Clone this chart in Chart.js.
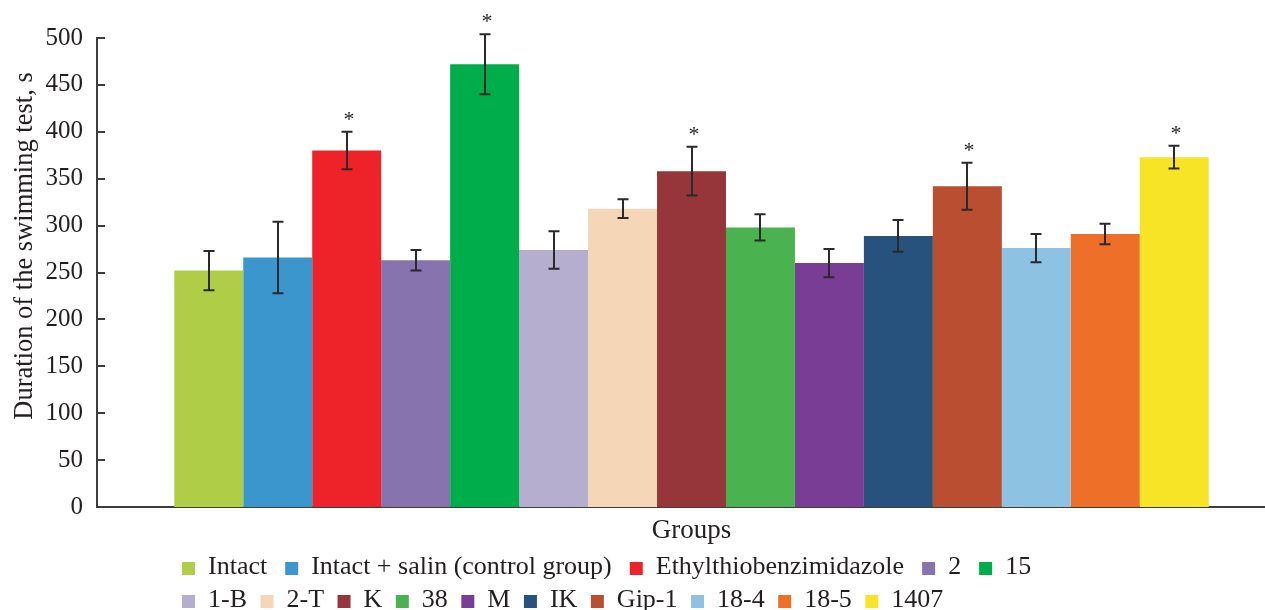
<!DOCTYPE html>
<html>
<head>
<meta charset="utf-8">
<script src="https://cdn.jsdelivr.net/npm/chart.js@4.4.0/dist/chart.umd.min.js"></script>
<style>
  html, body { margin: 0; padding: 0; overflow: hidden; background: #ffffff; }
  #wrap { position: absolute; left: 0; top: 0; width: 1286px; height: 610px; }
</style>
</head>
<body>
<div id="wrap"><canvas id="c" width="1286" height="610"></canvas></div>
<script>
// ---- data ----
const categories = ["Groups"];
const groups = ["Intact", "Intact + salin (control group)", "Ethylthiobenzimidazole", "2", "15",
  "1-B", "2-T", "K", "38", "M", "IK", "Gip-1", "18-4", "18-5", "1407"];
const means = [252, 266, 380, 263, 472, 274, 318, 358, 298, 260, 289, 342, 276, 291, 373];
const errors = [21, 38, 20, 11, 32, 20, 10, 26, 14, 15, 17, 25, 15, 11, 12];
const significant = [false, false, true, false, true, false, false, true, false, false, false, true, false, false, true];
const colors = ["#b0cd48", "#3a96cc", "#ee2229", "#8774ae", "#00ad4b", "#b6aece", "#f5d7b8", "#96353a",
  "#4bb250", "#7a3d96", "#27527d", "#b94e31", "#8ec2e3", "#ee6f27", "#f8e426"];
const yTicks = [0, 50, 100, 150, 200, 250, 300, 350, 400, 450, 500];
const legendRows = [[0, 1, 2, 3, 4], [5, 6, 7, 8, 9, 10, 11, 12, 13, 14]];

const FONT = "'Liberation Serif', 'Times New Roman', serif";
const TXT = "#231f20";
const AXIS = "#3d3d3d";

const datasets = groups.map((g, i) => ({
  label: g,
  data: [means[i]],
  backgroundColor: colors[i],
  borderWidth: 0,
  categoryPercentage: 0.87,
  barPercentage: 1.0
}));

const decor = {
  id: "decor",
  afterDatasetsDraw(chart) {
    const ctx = chart.ctx;
    const y = chart.scales.y;
    const area = chart.chartArea;
    ctx.save();
    // inward ticks on y axis
    ctx.strokeStyle = AXIS;
    ctx.lineWidth = 2;
    yTicks.forEach(v => {
      const py = Math.round(y.getPixelForValue(v));
      ctx.beginPath();
      ctx.moveTo(area.left, py);
      ctx.lineTo(area.left + 8, py);
      ctx.stroke();
    });
    // error bars and significance marks
    ctx.strokeStyle = "#2a2a2a";
    ctx.lineWidth = 2;
    groups.forEach((g, i) => {
      const bar = chart.getDatasetMeta(i).data[0];
      const cx = Math.round(bar.x);
      const top = y.getPixelForValue(means[i] + errors[i]);
      const bot = y.getPixelForValue(means[i] - errors[i]);
      ctx.beginPath();
      ctx.moveTo(cx, top); ctx.lineTo(cx, bot);
      ctx.moveTo(cx - 5.5, top); ctx.lineTo(cx + 5.5, top);
      ctx.moveTo(cx - 5.5, bot); ctx.lineTo(cx + 5.5, bot);
      ctx.stroke();
      if (significant[i]) {
        ctx.fillStyle = TXT;
        ctx.font = "22px " + FONT;
        ctx.textAlign = "center";
        ctx.textBaseline = "middle";
        ctx.fillText("*", cx + 2, top - 12);
      }
    });
    ctx.restore();
  },
  afterDraw(chart) {
    const ctx = chart.ctx;
    const area = chart.chartArea;
    ctx.save();
    ctx.fillStyle = TXT;
    // y title
    ctx.save();
    ctx.translate(25, 246);
    ctx.rotate(-Math.PI / 2);
    ctx.font = "26.5px " + FONT;
    ctx.textAlign = "center";
    ctx.textBaseline = "middle";
    ctx.fillText("Duration of the swimming test, s", 0, 0);
    ctx.restore();
    // x title
    ctx.font = "27px " + FONT;
    ctx.textAlign = "center";
    ctx.textBaseline = "alphabetic";
    ctx.fillText(categories[0], (area.left + area.right) / 2, 538);
    // legend
    ctx.font = "26px " + FONT;
    ctx.textAlign = "left";
    ctx.textBaseline = "alphabetic";
    const rowBase = [574, 607];
    const rowGap = [18, 13.5];
    legendRows.forEach((row, r) => {
      let x = 182;
      row.forEach(i => {
        ctx.fillStyle = colors[i];
        ctx.fillRect(x, rowBase[r] - 12, 13, 13);
        ctx.fillStyle = TXT;
        ctx.fillText(groups[i], x + 26, rowBase[r]);
        x += 26 + ctx.measureText(groups[i]).width + rowGap[r];
      });
    });
    ctx.restore();
  }
};

new Chart(document.getElementById("c"), {
  type: "bar",
  data: { labels: categories, datasets: datasets },
  options: {
    responsive: false,
    animation: false,
    layout: { padding: { left: 0, right: 0, top: 38, bottom: 103 } },
    plugins: { legend: { display: false }, tooltip: { enabled: false } },
    scales: {
      x: {
        ticks: { display: false },
        grid: { display: false, drawTicks: false },
        border: { display: true, color: AXIS, width: 2 },
        afterFit(s) { s.height = 0; }
      },
      y: {
        min: 0, max: 500,
        afterBuildTicks(s) { s.ticks = yTicks.map(v => ({ value: v })); },
        ticks: { font: { family: FONT, size: 25 }, color: TXT, padding: 14 },
        grid: { display: false, drawTicks: false },
        border: { display: true, color: AXIS, width: 2 },
        afterFit(s) { s.width = 97; }
      }
    }
  },
  plugins: [decor]
});
</script>
</body>
</html>
